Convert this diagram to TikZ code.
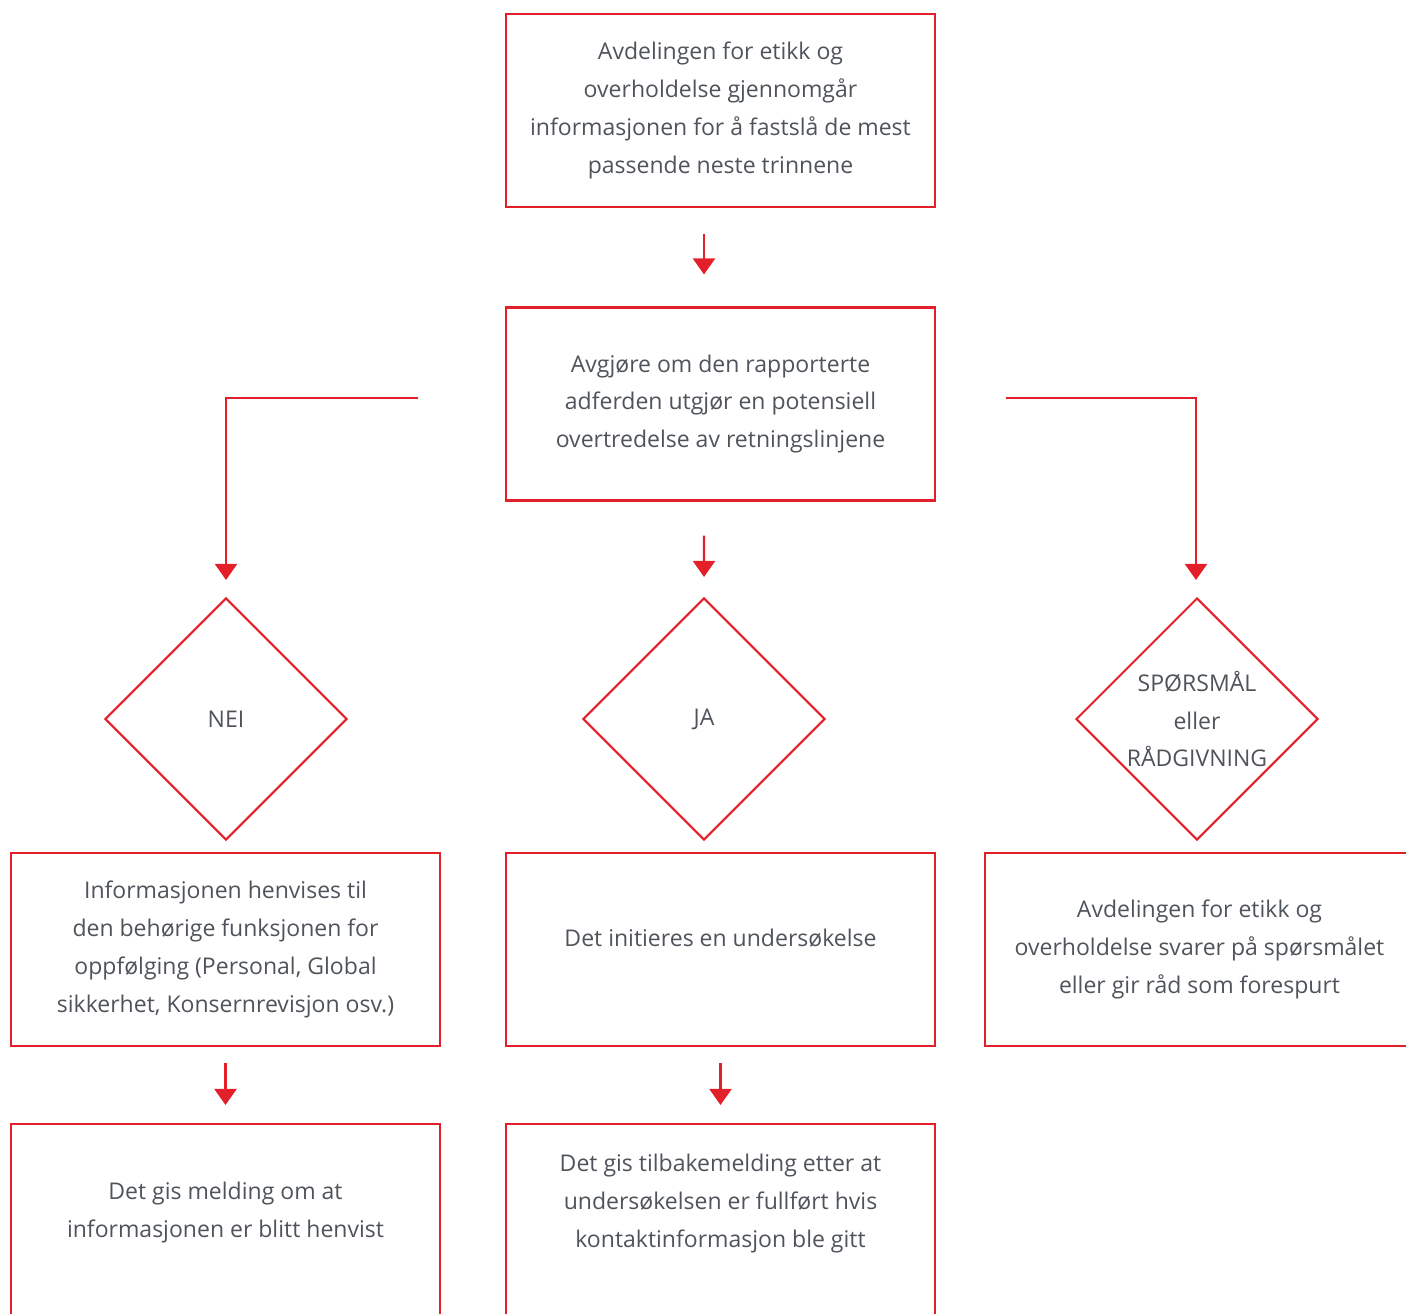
\documentclass[tikz,border=0pt]{standalone}
\usepackage{fontspec}
\setmainfont{Open Sans}
\usetikzlibrary{shapes.geometric,arrows.meta}
\definecolor{ecred}{HTML}{E3202A}
\definecolor{ectext}{HTML}{4F545B}
\begin{document}
\begin{tikzpicture}[x=0.02cm,y=-0.02cm,
  box/.style={draw=ecred, line width=1.2pt, minimum width=8.58cm, minimum height=3.86cm, inner sep=0pt,
    align=center, text=ectext, font=\fontsize{13.1}{21.6}\selectfont},
  dia/.style={draw=ecred, line width=1.2pt, diamond, minimum width=4.84cm, minimum height=4.84cm, inner sep=0pt},
  diatext/.style={text=ectext, align=center, font=\fontsize{13.1}{21.6}\selectfont},
  arr/.style={draw=ecred, line width=1.2pt, -{Triangle[width=0.44cm,length=0.32cm]}}]
  \useasboundingbox (0,0) rectangle (1406,1313);
  \clip (0,0) rectangle (1406,1313);
  \node (review) [box] at (720.5,110.5) {Avdelingen for etikk og\\overholdelse gjennomgår\\informasjonen for å fastslå de mest\\passende neste trinnene};
  \node (decide) [box] at (720.5,404) {Avgjøre om den rapporterte\\adferden utgjør en potensiell\\overtredelse av retningslinjene};
  \node (nei) [dia, label={[diatext]center:NEI}] at (226,719) {};
  \node (ja) [dia, label={[diatext]center:JA}] at (704,719) {};
  \node (sporsmal) [dia, label={[diatext]center:SPØRSMÅL\\eller\\RÅDGIVNING}] at (1197,719) {};
  \node (henvises) [box] at (225.5,949.5) {Informasjonen henvises til\\den behørige funksjonen for\\oppfølging (Personal, Global\\sikkerhet, Konsernrevisjon osv.)};
  \node (initieres) [box, text depth=0.47cm] at (720.5,949.5) {Det initieres en undersøkelse};
  \node (svarer) [box] at (1199.5,949.5) {Avdelingen for etikk og\\overholdelse svarer på spørsmålet\\eller gir råd som forespurt};
  \node (melding) [box, text depth=0.44cm] at (225.5,1220.5) {Det gis melding om at\\informasjonen er blitt henvist};
  \node (tilbake) [box, text depth=0.78cm] at (720.5,1220.5) {Det gis tilbakemelding etter at\\undersøkelsen er fullført hvis\\kontaktinformasjon ble gitt};
  \coordinate (nleft) at (418,398); \coordinate (nright) at (1006,398);
  \draw [arr, shorten <=0.52cm, shorten >=0.64cm] ([xshift=-0.33cm]review.south) -- ([xshift=-0.33cm]decide.north);
  \draw [arr, shorten <=0.68cm, shorten >=0.4cm] ([xshift=-0.33cm]decide.south) -- (ja.north);
  \draw [arr, shorten >=0.34cm] (nleft) -| (nei.north);
  \draw [arr, shorten >=0.34cm] (nright) -| ([xshift=-0.02cm]sporsmal.north);
  \draw [arr, shorten <=0.32cm, shorten >=0.36cm] (henvises.south) -- (melding.north);
  \draw [arr, shorten <=0.32cm, shorten >=0.36cm] (initieres.south) -- (tilbake.north);
\end{tikzpicture}
\end{document}
